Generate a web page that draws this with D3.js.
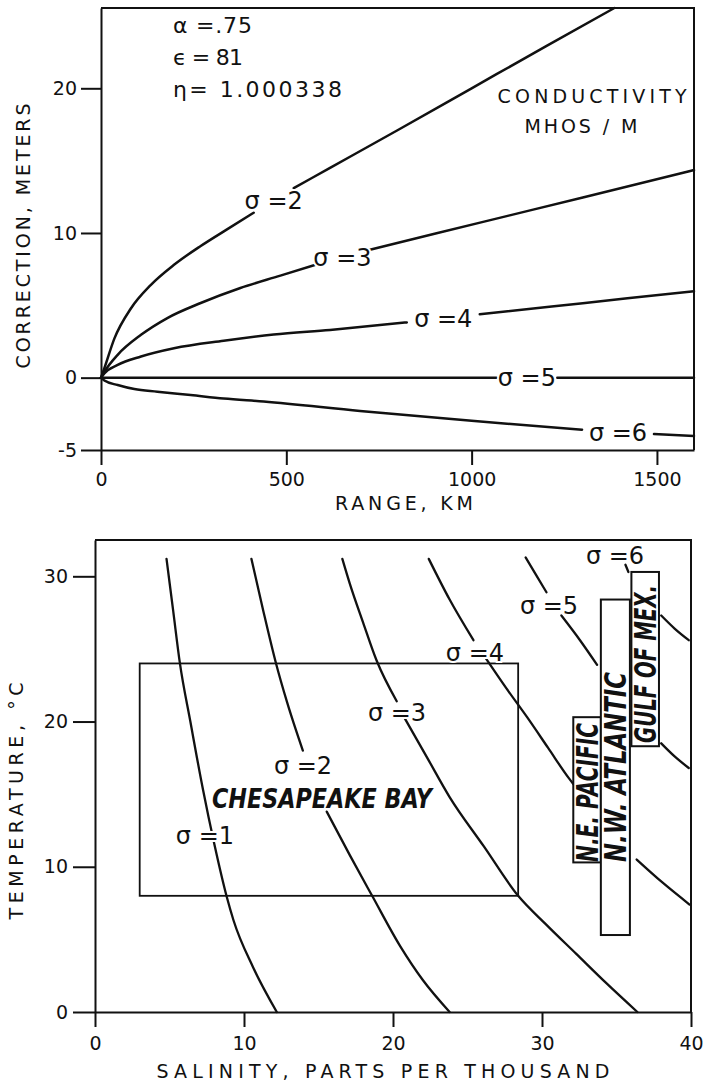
<!DOCTYPE html>
<meta charset="utf-8">
<script src="https://d3js.org/d3.v7.min.js"></script>
<style>
  body { margin: 0; background: #fff; }
  svg text { font-family: "DejaVu Sans", sans-serif; fill: #111; }
  .axis path, .axis line { stroke: #111; stroke-width: 2; }
  .axis text { font-size: 19px; font-family: "DejaVu Sans", sans-serif; }
  .curve { fill: none; stroke: #111; stroke-width: 2.5; stroke-linecap: round; }
  .frame { fill: none; stroke: #111; stroke-width: 2; }
  .sig { font-size: 24px; paint-order: stroke; stroke: #fff; stroke-width: 4px; }
  .stencil { font-family: "DejaVu Sans Condensed", "Liberation Sans Narrow", "DejaVu Sans", sans-serif;
             font-weight: bold; font-style: italic; }
</style>
<div id="chart"></div>
<script>
// ---- top panel: correction (m) against range (km), one curve per conductivity
var rangeTicks = [0, 500, 1000, 1500];
var corrTicks = [-5, 0, 10, 20];
var params = ["\u03b1 =.75", "\u03f5 = 81", "\u03b7= 1.000338"];

// visible pieces of each curve (the gaps hold the labels): [range, correction]
var top2 = [
  [[0,0],[9,0.65],[36,2.7],[81,4.8],[134,6.4],[197,7.8],[269,9.1],[340,10.25],[412,11.4]],
  [[520,13.1],[618,14.5],[800,17.1],[1000,20.0],[1200,22.9],[1385,25.55]]
];
var top3 = [
  [[0,0],[9,0.4],[45,1.58],[108,2.96],[179,4.12],[269,5.16],[376,6.2],[484,7.05],[591,7.9]],
  [[712,8.75],[900,9.95],[1100,11.2],[1300,12.45],[1600,14.35]]
];
var top4 = [
  [[0,0],[9,0.3],[45,0.88],[108,1.46],[197,2.03],[331,2.55],[466,2.98],[618,3.3],[825,3.82]],
  [[1022,4.38],[1300,5.15],[1600,5.98]]
];
var top5 = [[[0,0],[1067,0]], [[1231,0],[1600,0]]];
var top6 = [
  [[0,0],[9,-0.2],[45,-0.51],[90,-0.79],[152,-0.97],[242,-1.2],[331,-1.44],[439,-1.65],[699,-2.3],[1000,-2.98],[1298,-3.6]],
  [[1492,-3.9],[1600,-4.03]]
];
var topCurves = [
  {sigma: 2, segs: top2}, {sigma: 3, segs: top3}, {sigma: 4, segs: top4},
  {sigma: 5, segs: top5}, {sigma: 6, segs: top6}
];

// ---- bottom panel: temperature (C) against salinity (ppt), lines of equal conductivity
var salTicks = [0, 10, 20, 30, 40];
var tempTicks = [0, 10, 20, 30];

// visible pieces: [salinity, temperature]
var bot1 = [[[4.8,31.2],[5.25,27.6],[5.7,24.0],[6.4,20.0],[7.25,15.3],[8.0,11.6],[8.85,7.9],[9.3,6.3],[10.6,3.1],[12.2,0]]];
var bot2 = [
  [[10.5,31.2],[11.3,27.6],[12.15,24.0],[12.9,21.3],[13.95,18.0]],
  [[15.55,13.8],[17.1,10.8],[18.6,8.0],[20.5,4.5],[22.0,2.2],[23.8,0]]
];
var bot3 = [
  [[16.6,31.2],[17.1,29.5],[18.0,26.8],[18.9,24.2],[20.25,21.4]],
  [[20.8,20.2],[22.3,17.5],[23.8,14.8],[26.1,11.4],[28.4,8.0],[30.3,6.0],[32.3,4.0],[34.3,2.0],[36.4,0]]
];
var bot4 = [
  [[22.4,31.2],[23.8,28.4],[25.4,25.6]],
  [[26.2,24.4],[27.6,22.3],[29.0,20.3],[30.4,18.2],[31.8,16.1],[32.1,15.7]],
  [[36.35,10.5],[38.1,8.9],[39.9,7.4]]
];
var bot5 = [
  [[28.9,31.3],[29.6,30.1],[30.3,28.9]],
  [[31.3,27.3],[32.55,25.6],[33.7,23.9]],
  [[38.0,18.5],[38.9,17.6],[39.85,16.8]]
];
var bot6 = [
  [[35.6,30.8],[35.8,30.3]],
  [[38.0,27.3],[38.9,26.4],[39.85,25.6]]
];
var botCurves = [bot1, bot2, bot3, bot4, bot5, bot6];

// water bodies: salinity range, temperature range
var regionNames = ["CHESAPEAKE BAY", "N.E. PACIFIC", "N.W. ATLANTIC", "GULF OF MEX."];
var regionSal = [[3, 28.4], [32.1, 33.95], [33.95, 35.9], [36.0, 37.85]];
var regionTemp = [[8, 24], [10.3, 20.3], [5.3, 28.4], [18.3, 30.3]];

var svg = d3.select("#chart").append("svg")
    .attr("width", 703)
    .attr("height", 1085);

// ================= top panel
var x1 = d3.scaleLinear().domain([0, 1600]).range([101, 694]);
var y1 = d3.scaleLinear().domain([-5, 25.55]).range([450, 8]);

svg.append("g")
    .attr("class", "axis")
    .attr("transform", "translate(0," + y1(-5) + ")")
    .call(d3.axisBottom(x1).tickValues(rangeTicks).tickSize(15).tickSizeOuter(0).tickPadding(8)
        .tickFormat(d3.format("d")));
svg.append("g")
    .attr("class", "axis")
    .attr("transform", "translate(" + x1(0) + ",0)")
    .call(d3.axisLeft(y1).tickValues(corrTicks).tickSize(20).tickSizeOuter(0).tickPadding(4)
        .tickFormat(function(d) { return d < 0 ? "-" + (-d) : d; }));
svg.append("path")
    .attr("class", "frame")
    .attr("d", "M" + x1(0) + "," + y1(25.55) + "H" + x1(1600) + "V" + y1(-5));

var line1 = d3.line()
    .x(function(d) { return x1(d[0]); })
    .y(function(d) { return y1(d[1]); })
    .curve(d3.curveMonotoneX);

topCurves.forEach(function(c) {
    svg.selectAll(null)
        .data(c.segs)
        .enter()
        .append("path")
        .attr("class", "curve")
        .attr("d", line1);
    // label sits in the gap between the two pieces
    var a = c.segs[0][c.segs[0].length - 1], b = c.segs[1][0];
    svg.append("text")
        .attr("class", "sig")
        .attr("x", x1((a[0] + b[0]) / 2))
        .attr("y", y1((a[1] + b[1]) / 2))
        .attr("dy", "0.36em")
        .attr("text-anchor", "middle")
        .text("\u03c3 =" + c.sigma);
});

svg.selectAll("paramText")
    .data(params)
    .enter()
    .append("text")
    .attr("x", x1(194))
    .attr("y", function(d, i) { return y1(23.82 - i * 2.21); })
    .style("font-size", "22px")
    .attr("textLength", function(d, i) { return [79, 70, 169][i]; })
    .text(function(d) { return d; });

svg.append("text")
    .attr("x", x1(1325)).attr("y", y1(18.98))
    .attr("text-anchor", "middle")
    .style("font-size", "19px")
    .attr("textLength", 189)
    .text("CONDUCTIVITY");
svg.append("text")
    .attr("x", x1(1295)).attr("y", y1(16.91))
    .attr("text-anchor", "middle")
    .style("font-size", "19px")
    .attr("textLength", 113)
    .text("MHOS / M");

svg.append("text")
    .attr("x", 404).attr("y", 510)
    .attr("text-anchor", "middle")
    .style("font-size", "19px")
    .attr("textLength", 138)
    .text("RANGE, KM");
svg.append("text")
    .attr("transform", "translate(30,236) rotate(-90)")
    .attr("text-anchor", "middle")
    .style("font-size", "19px")
    .attr("textLength", 265)
    .text("CORRECTION, METERS");

// ================= bottom panel
var x2 = d3.scaleLinear().domain([0, 40]).range([95, 691]);
var y2 = d3.scaleLinear().domain([0, 32.5]).range([1012, 540]);

svg.append("g")
    .attr("class", "axis")
    .attr("transform", "translate(0," + y2(0) + ")")
    .call(d3.axisBottom(x2).tickValues(salTicks).tickSize(15).tickSizeOuter(0).tickPadding(10));
svg.append("g")
    .attr("class", "axis")
    .attr("transform", "translate(" + x2(0) + ",0)")
    .call(d3.axisLeft(y2).tickValues(tempTicks).tickSize(22).tickSizeOuter(0).tickPadding(5));
svg.append("path")
    .attr("class", "frame")
    .attr("d", "M" + x2(0) + "," + y2(32.5) + "H" + x2(40) + "V" + y2(0));

var line2 = d3.line()
    .x(function(d) { return x2(d[0]); })
    .y(function(d) { return y2(d[1]); })
    .curve(d3.curveMonotoneX);

botCurves.forEach(function(segs) {
    svg.selectAll(null)
        .data(segs)
        .enter()
        .append("path")
        .attr("class", "curve")
        .style("stroke-width", 2.3)
        .attr("d", line2);
});

// region boxes: the bay is open, the ocean strips are opaque labels
svg.selectAll("regionBox")
    .data(regionNames)
    .enter()
    .append("rect")
    .attr("x", function(d, i) { return x2(regionSal[i][0]); })
    .attr("y", function(d, i) { return y2(regionTemp[i][1]); })
    .attr("width", function(d, i) { return x2(regionSal[i][1]) - x2(regionSal[i][0]); })
    .attr("height", function(d, i) { return y2(regionTemp[i][0]) - y2(regionTemp[i][1]); })
    .style("fill", function(d, i) { return i == 0 ? "none" : "#fff"; })
    .style("stroke", "#111")
    .style("stroke-width", function(d, i) { return i == 0 ? 1.8 : 2; });

// bay name
svg.append("text")
    .attr("class", "stencil")
    .attr("x", x2(15.23)).attr("y", y2(14.74))
    .attr("dy", "0.36em")
    .attr("text-anchor", "middle")
    .style("font-size", "27px")
    .attr("textLength", 220)
    .attr("lengthAdjust", "spacingAndGlyphs")
    .text(regionNames[0]);

// ocean names, read upward inside their strips
var stripStart = [0, 10.33, 10.33, 18.52];
var stripLen = [0, 139, 190, 158];
[1, 2, 3].forEach(function(i) {
    var cx = (x2(regionSal[i][0]) + x2(regionSal[i][1])) / 2;
    svg.append("text")
        .attr("class", "stencil")
        .attr("transform", "translate(" + (cx + 11) + "," + y2(stripStart[i]) + ") rotate(-90)")
        .style("font-size", "30px")
        .attr("textLength", stripLen[i])
        .attr("lengthAdjust", "spacingAndGlyphs")
        .text(regionNames[i]);
});

var botLabels = [[1, 7.38, 12.19], [2, 13.96, 17.0], [3, 20.27, 20.66],
                 [4, 25.5, 24.79], [5, 30.47, 28.02], [6, 34.9, 31.47]];
svg.selectAll("botLabel")
    .data(botLabels)
    .enter()
    .append("text")
    .attr("class", "sig")
    .attr("x", function(d) { return x2(d[1]); })
    .attr("y", function(d) { return y2(d[2]); })
    .attr("dy", "0.36em")
    .attr("text-anchor", "middle")
    .text(function(d) { return "\u03c3 =" + d[0]; });

svg.append("text")
    .attr("x", 383).attr("y", 1078)
    .attr("text-anchor", "middle")
    .style("font-size", "19px")
    .attr("textLength", 453)
    .text("SALINITY,  PARTS  PER  THOUSAND");
svg.append("text")
    .attr("transform", "translate(23,801) rotate(-90)")
    .attr("text-anchor", "middle")
    .style("font-size", "19px")
    .attr("textLength", 237)
    .text("TEMPERATURE, \u00b0C");
</script>
